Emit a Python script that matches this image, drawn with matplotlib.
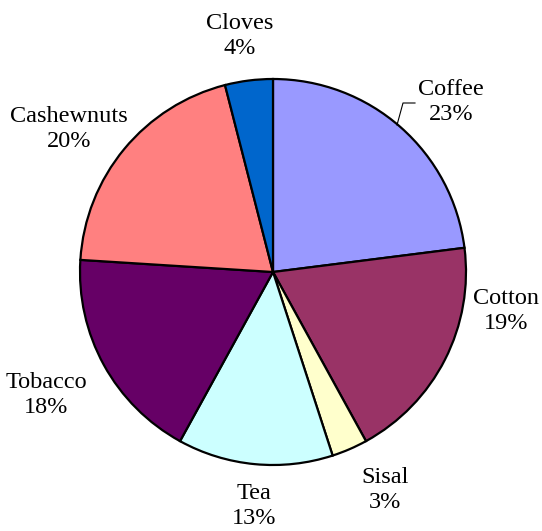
import matplotlib
matplotlib.use("Agg")
import matplotlib.pyplot as plt

crops = ['Coffee', 'Cotton', 'Sisal', 'Tea', 'Tobacco', 'Cashewnuts', 'Cloves']
shares = [23, 19, 3, 13, 18, 20, 4]
colors = ['#9999FF', '#993366', '#FFFFCC', '#CCFFFF', '#660066', '#FF8080', '#0066CC']

# label centres in pixel coords (x, y from top)
label_pos = [(451, 102), (506, 311), (385, 490), (254, 506), (46, 395), (69, 129), (240, 36)]

W, H = 542, 531
fig = plt.figure(figsize=(W / 100, H / 100), dpi=100)
ax = fig.add_axes([0, 0, 1, 1])

ax.pie(shares, colors=colors, startangle=90, counterclock=False,
       center=(273, H - 272), radius=193, frame=True,
       wedgeprops=dict(edgecolor='black', linewidth=1.6))
ax.set_xlim(0, W)
ax.set_ylim(0, H)
ax.set_aspect('equal')
ax.axis('off')

for name, val, (x, y) in zip(crops, shares, label_pos):
    ax.text(x, H - y, f'{name}\n{val}%', ha='center', va='center',
            family='Liberation Serif', fontsize=17.5, linespacing=1.2)

# leader line for Coffee
ax.plot([397, 403, 415], [H - 125, H - 103, H - 103], color='black', lw=0.8)

fig.savefig('out.png', dpi=100)
